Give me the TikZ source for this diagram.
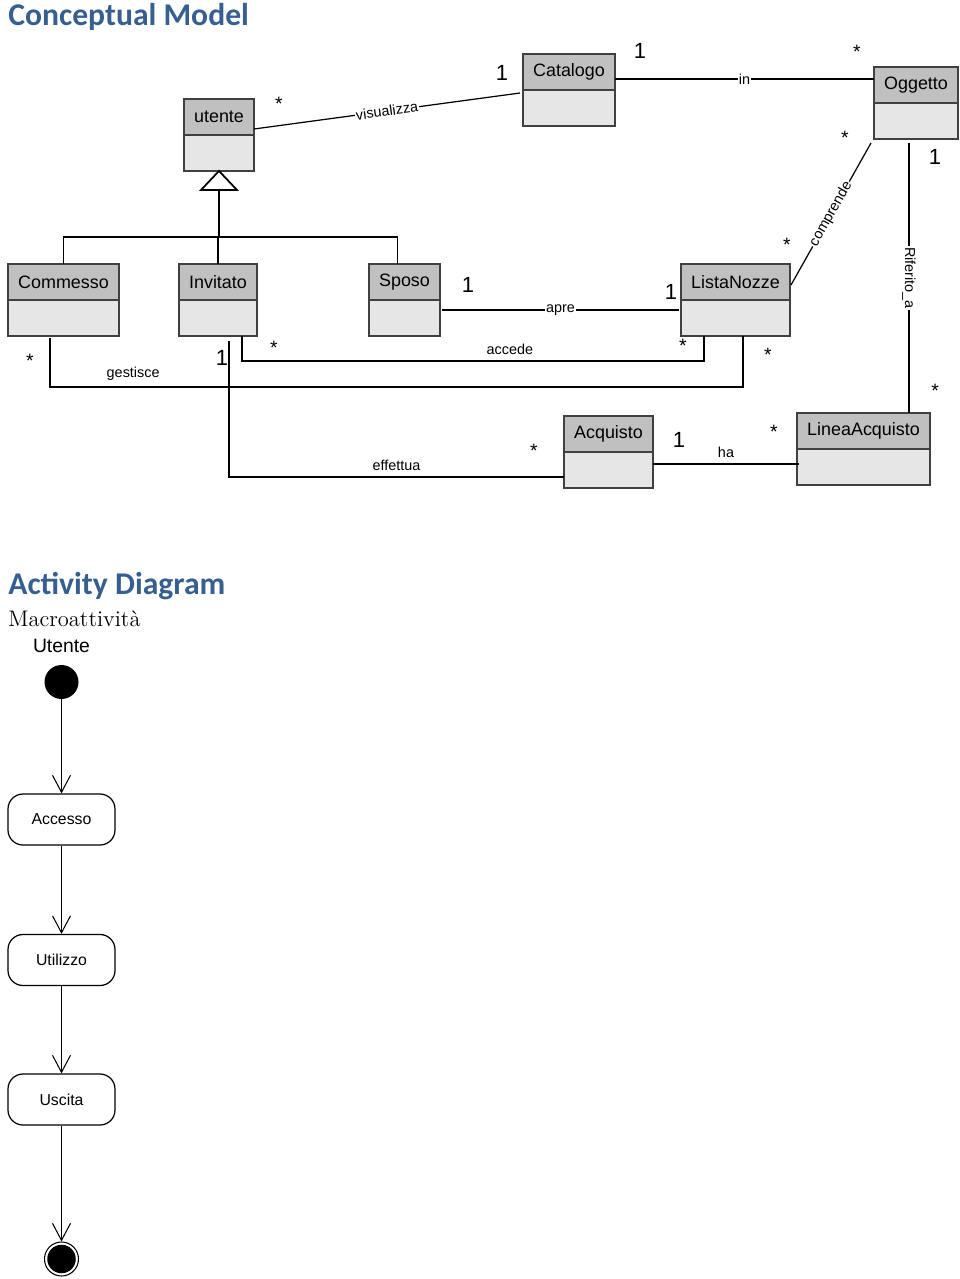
\documentclass[tikz,border=0pt]{standalone}
\usepackage{fontspec}
\setsansfont{Liberation Sans}
\newfontfamily\headfont{Carlito}
\usetikzlibrary{positioning, calc, arrows.meta}

\definecolor{titleblue}{RGB}{54,95,145}
\definecolor{headgray}{RGB}{192,192,192}
\definecolor{bodygray}{RGB}{230,230,230}
\definecolor{boxline}{RGB}{64,64,64}

\tikzset{
  classhead/.style={draw=boxline, fill=headgray, line width=0.8pt, minimum height=7.2mm,
    inner sep=0pt, outer sep=0pt, font=\sffamily\fontsize{10.2}{12}\selectfont},
  classbody/.style={draw=boxline, fill=bodygray, line width=0.8pt, minimum height=7.2mm,
    inner sep=0pt, outer sep=0pt},
  assoc/.style={line width=0.7pt},
  lab/.style={font=\sffamily\fontsize{8.2}{10}\selectfont, fill=white, inner sep=0.6pt},
  toplab/.style={font=\sffamily\fontsize{8.2}{10}\selectfont, above, inner sep=1.1mm},
  mult/.style={font=\sffamily\fontsize{11}{13}\selectfont, inner sep=0pt},
  one/.style={font=\sffamily\fontsize{12.5}{14}\selectfont, inner sep=0pt},
  title/.style={font=\headfont\bfseries\fontsize{18}{21}\selectfont, text=titleblue,
    anchor=base west, inner sep=0pt},
  act/.style={draw, line width=0.7pt, rounded corners=3mm, minimum width=21.4mm,
    minimum height=10.2mm, font=\sffamily\fontsize{9}{11}\selectfont},
  initial/.style={circle, fill=black, minimum size=6.8mm, inner sep=0pt},
  final/.style={circle, draw, line width=0.6pt, minimum size=6.8mm, inner sep=0pt,
    path picture={\fill (path picture bounding box.center) circle (2.85mm);}},
  flow/.style={line width=0.6pt, -{Straight Barb[length=3.4mm, width=3.6mm]}},
}

% class box: name, top-left corner, width, label
\newcommand{\umlclass}[4]{%
  \node[classhead, minimum width=#3, anchor=north west] (#1) at (#2) {#4};
  \node[classbody, minimum width=#3, below=0pt of #1] (#1-b) {};
}

\begin{document}
\begin{tikzpicture}[x=0.2mm, y=-0.2mm]
\useasboundingbox (0,0) rectangle (960,1279);

% Titles
\node[title] (tmodel) at (8,26) {Conceptual Model};
\node[title] (tactivity) at (8,594) {Activity Diagram};
\node[anchor=base west, inner sep=0pt, font=\fontsize{12.8}{15}\selectfont] (tmacro) at (8,626) {Macroattività};
\node[anchor=base, inner sep=0pt, font=\sffamily\fontsize{11}{13}\selectfont] (tutente) at (61.5,652) {Utente};

% Classes
\umlclass{utente}{184,99}{14mm}{utente}
\umlclass{catalogo}{523,54}{18.4mm}{Catalogo}
\umlclass{oggetto}{874,67}{16.8mm}{Oggetto}
\umlclass{commesso}{8,264}{22.2mm}{Commesso}
\umlclass{invitato}{179,264}{15.6mm}{Invitato}
\umlclass{sposo}{369,264}{14.2mm}{Sposo}
\umlclass{listanozze}{681,264}{21.8mm}{ListaNozze}
\umlclass{acquisto}{564,416}{17.8mm}{Acquisto}
\umlclass{lineaacq}{797,413}{26.6mm}{LineaAcquisto}

% Generalization
\draw[line width=1pt, fill=white] (utente-b.south) -- ++(18,19) -- ++(-36,0) -- cycle;
\draw[line width=1.1pt] ($(utente-b.south)+(0,19)$) -- ++(0,47);
\draw[assoc] (commesso.north) -- ++(0,-27) -| ($(sposo.north)+(-7,0)$);
\draw[assoc] (invitato.north) -- ++(0,-27);

% Associations
\draw[assoc] ($(utente.south east)+(0,-6)$) -- node[lab, sloped] (lvis) {visualizza} ($(catalogo-b.north west)+(-3,3)$);
\draw[assoc] ($(catalogo.east)+(0,7)$) -- node[lab] (lin) {in} ($(oggetto.west)+(0,-6)$);
\draw[assoc] ($(listanozze.east)+(1,3)$) -- node[lab, sloped] (lcomp) {comprende} ($(oggetto-b.south west)+(-3,4)$);
\draw[assoc] ($(oggetto-b.south west)+(35,4)$) coordinate (rtop) -- node[lab, sloped] (lrif) {Riferito\_a} (rtop |- lineaacq.north);
\draw[assoc] ($(sposo-b.east)+(2,-8)$) -- node[lab] (lapre) {apre} ($(listanozze-b.west)+(-2,-8)$);
\draw[assoc] ($(invitato-b.south west)+(63,0)$) -- ++(0,25) -| node[toplab, pos=0.29] (lacc) {accede} ($(listanozze-b.south west)+(23,0)$);
\draw[assoc] ($(commesso-b.south west)+(42,2)$) -- ++(0,49) -| node[toplab, pos=0.06] (lgest) {gestisce} ($(listanozze-b.south west)+(62,0)$);
\draw[assoc] ($(invitato-b.south west)+(50,5)$) |- node[toplab, pos=0.75] (leff) {effettua} ($(acquisto-b.west)+(0,7)$);
\draw[assoc] ($(acquisto-b.east)+(0,-6)$) -- node[toplab] (lha) {ha} ($(lineaacq-b.west)+(2,-3)$);

% Multiplicities
\node[mult] (m1) at (279,104) {*};
\node[one] (m2) at (502,73) {1};
\node[one] (m3) at (640,51) {1};
\node[mult] (m4) at (857,52) {*};
\node[mult] (m5) at (845,138) {*};
\node[mult] (m6) at (787,245) {*};
\node[one] (m7) at (935,157) {1};
\node[mult] (m8) at (935,391) {*};
\node[one] (m9) at (468,285) {1};
\node[one] (m10) at (671,292) {1};
\node[mult] (m11) at (274,348) {*};
\node[mult] (m12) at (683,346) {*};
\node[mult] (m13) at (30,361) {*};
\node[mult] (m14) at (768,355) {*};
\node[one] (m15) at (222,358) {1};
\node[mult] (m16) at (534,451) {*};
\node[one] (m17) at (679,440) {1};
\node[mult] (m18) at (774,432) {*};

% Activity diagram
\node[initial] (start) at (61.5,682) {};
\node[act] (accesso) at (61.5,819.5) {Accesso};
\node[act] (utilizzo) at (61.5,960) {Utilizzo};
\node[act] (uscita) at (61.5,1099.5) {Uscita};
\node[final] (stop) at (61.5,1259) {};

\draw[flow] (start) -- (accesso);
\draw[flow] (accesso) -- (utilizzo);
\draw[flow] (utilizzo) -- (uscita);
\draw[flow] (uscita) -- (stop);

\end{tikzpicture}
\end{document}
